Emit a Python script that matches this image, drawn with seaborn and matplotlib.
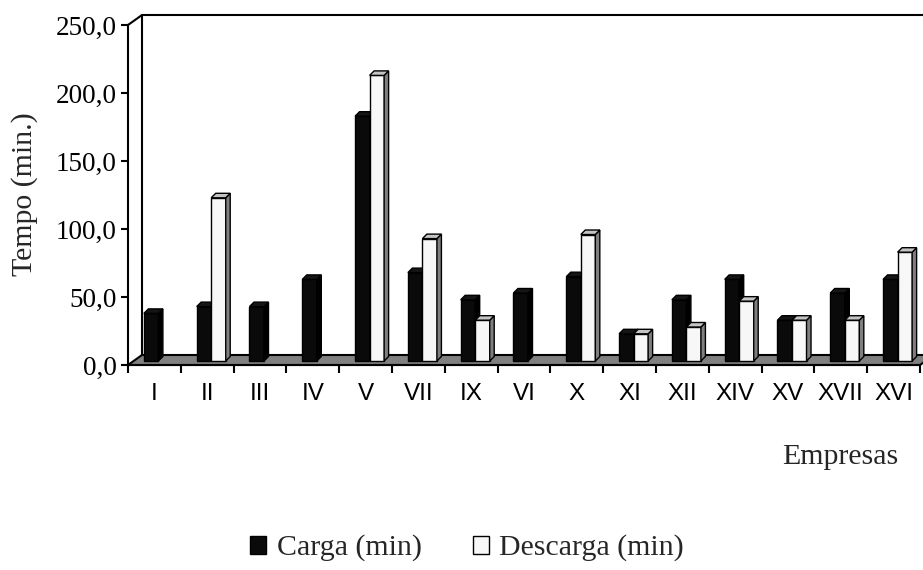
import numpy as np
import pandas as pd
import seaborn as sns
import matplotlib
matplotlib.use("Agg")
import matplotlib.pyplot as plt
from matplotlib.patches import Polygon, Patch, Rectangle
from matplotlib.lines import Line2D
from matplotlib.transforms import ScaledTranslation

# Loading / unloading times per company (minutes)
empresas = ["I", "II", "III", "IV", "V", "VII", "IX", "VI", "X", "XI",
            "XII", "XIV", "XV", "XVII", "XVI"]
carga = [35, 40, 40, 60, 180, 65, 45, 50, 62, 20, 45, 60, 30, 50, 60]
descarga = [0, 120, 0, 0, 210, 90, 30, 0, 93, 20, 25, 44, 30, 30, 80]
series = ["Carga (min)", "Descarga (min)"]
yticks = [0, 50, 100, 150, 200, 250]
ytick_labels = ["0,0", "50,0", "100,0", "150,0", "200,0", "250,0"]

df = pd.DataFrame({
    "Empresa": empresas * 2,
    "Tempo": carga + descarga,
    "Serie": [series[0]] * len(empresas) + [series[1]] * len(empresas),
})

sns.set_theme(style="white")
plt.rcParams["font.family"] = ["Liberation Serif", "DejaVu Serif"]

W, H, DPI = 923, 570, 100
fig = plt.figure(figsize=(W / DPI, H / DPI), dpi=DPI)
fig.patch.set_facecolor("white")

# front plane of the plot, in pixels
x0, x1 = 128, 920
ytop, ybot = 25, 365
ax = fig.add_axes([x0 / W, 1 - ybot / H, (x1 - x0) / W, (ybot - ytop) / H])
ax.set_facecolor("none")

front_cols = ["#0a0a0a", "#f7f7f7"]
side_cols = ["#000000", "#7f7f7f"]
top_cols = ["#151515", "#c4c4c4"]

sns.barplot(data=df, x="Empresa", y="Tempo", hue="Serie", order=empresas,
            hue_order=series, palette=front_cols, saturation=1, width=0.55,
            gap=0, edgecolor="black", linewidth=1.0, legend=False, ax=ax,
            zorder=3)
bars = [p for p in ax.patches if isinstance(p, Rectangle)]

ax.set_xlim(-0.5, len(empresas) - 0.5)
ax.set_ylim(0, 250)

def fig_pts(pts_img):
    return [(x / W, 1 - y / H) for x, y in pts_img]

# depth offsets (pixels)
wall_dx, wall_dy = 14, 10
bar_off = 4
bar_d = 4.5

# back wall and floor
ax.add_patch(Polygon(fig_pts([(x0, ybot), (x0 + wall_dx, ybot - wall_dy),
                              (x1 + wall_dx, ybot - wall_dy), (x1, ybot)]),
                     closed=True, transform=fig.transFigure, clip_on=False,
                     facecolor="#808080", edgecolor="black", linewidth=1.5,
                     zorder=1))
for (xa, ya), (xb, yb) in [((x0 + wall_dx, ybot - wall_dy), (x0 + wall_dx, ytop - wall_dy)),
                           ((x0 + wall_dx, ytop - wall_dy), (W + 20, ytop - wall_dy)),
                           ((x0, ytop), (x0 + wall_dx, ytop - wall_dy))]:
    ax.add_line(Line2D([xa / W, xb / W], [1 - ya / H, 1 - yb / H],
                       transform=fig.transFigure, clip_on=False,
                       color="black", linewidth=1.5, zorder=1))

# give the bars their 3D faces; the second series sits in front of the first
fig.canvas.draw()
shift = ScaledTranslation(bar_off / DPI, bar_off / DPI, fig.dpi_scale_trans)
n = len(empresas)
to_fig = fig.transFigure.inverted()
for i, p in enumerate(bars):
    s = i // n
    h = p.get_height()
    if not np.isfinite(h) or h <= 0:
        p.set_visible(False)
        continue
    p.set_transform(ax.transData + shift)
    p.set_clip_on(False)
    p.set_zorder(3 + s)
    xl, xr = p.get_x(), p.get_x() + p.get_width()
    (dxl, dyb), (dxr, dyt) = ax.transData.transform([(xl, 0), (xr, h)])
    dxl += bar_off; dxr += bar_off; dyb += bar_off; dyt += bar_off
    side = [(dxr, dyb), (dxr + bar_d, dyb + bar_d), (dxr + bar_d, dyt + bar_d), (dxr, dyt)]
    top = [(dxl, dyt), (dxl + bar_d, dyt + bar_d), (dxr + bar_d, dyt + bar_d), (dxr, dyt)]
    for pts, col in [(side, side_cols[s]), (top, top_cols[s])]:
        ax.add_patch(Polygon(to_fig.transform(pts), closed=True,
                             transform=fig.transFigure, clip_on=False,
                             facecolor=col, edgecolor="black", linewidth=1.0,
                             zorder=3.5 + s))

# axes styling
for sp in ["top", "right"]:
    ax.spines[sp].set_visible(False)
for sp in ["left", "bottom"]:
    ax.spines[sp].set_color("black")
    ax.spines[sp].set_linewidth(1.5)
    ax.spines[sp].set_zorder(2)

ax.set_yticks(yticks)
ax.set_yticklabels(ytick_labels, fontsize=19.5, family=["Liberation Serif"])
ax.tick_params(axis="y", direction="out", length=5, width=1.5, pad=3,
               colors="black", left=True)

ax.set_xticks(np.arange(-0.5, n, 1.0))
ax.set_xticklabels([])
ax.set_xticks(np.arange(n), minor=True)
ax.set_xticklabels(empresas, minor=True, fontsize=17.5,
                   family=["Liberation Sans"])
ax.tick_params(axis="x", which="major", direction="out", length=6, width=1.5,
               colors="black", bottom=True)
ax.tick_params(axis="x", which="minor", length=0, pad=13, colors="black")
ax.set_xlabel("")
ax.set_ylabel("")
ax.grid(False)

fig.text(25 / W, 1 - 194 / H, "Tempo (min.)", rotation=90, ha="center",
         va="center", fontsize=21.5)
fig.text(840 / W, 1 - 457 / H, "Empresas", ha="center", va="center",
         fontsize=21.5)

handles = [Patch(facecolor=front_cols[0], edgecolor="black", linewidth=1),
           Patch(facecolor=front_cols[1], edgecolor="black", linewidth=1)]
fig.legend(handles, series, loc="center", bbox_to_anchor=(467 / W, 1 - 548 / H),
           ncol=2, frameon=False, fontsize=21.5, handlelength=0.55,
           handleheight=0.55, handletextpad=0.35, columnspacing=1.7,
           borderaxespad=0)

fig.savefig("out.png", dpi=DPI, facecolor="white")
